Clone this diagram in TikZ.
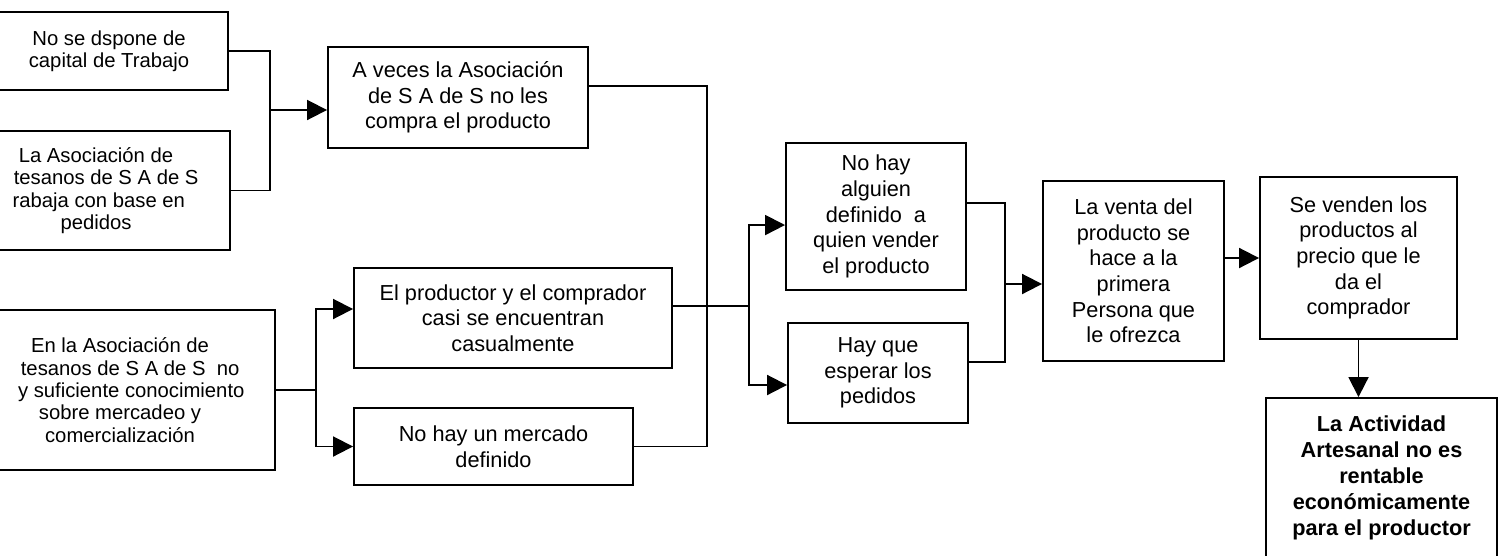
\documentclass[tikz,border=0pt]{standalone}
\usepackage{fontspec}
\setmainfont{Liberation Sans}
\usetikzlibrary{arrows.meta}
\tikzset{
  caja/.style={draw, line width=0.9pt, align=center, inner sep=2pt,
    font=\fontsize{10.5}{12.4}\selectfont},
  cajaizq/.style={caja, font=\fontsize{9.8}{10.8}\selectfont},
  flecha/.style={-{Triangle[length=3.4mm,width=3.4mm]}, line width=0.9pt},
  linea/.style={line width=0.9pt}
}
\begin{document}
\begin{tikzpicture}[x=0.017cm, y=-0.017cm]
\useasboundingbox (0,0) rectangle (1500,555);
\clip (0,0) rectangle (1500,555);
% causas (izquierda)
\node (A) at (109,51) [cajaizq, minimum width=4.046cm, minimum height=1.326cm] {No se dspone de\\capital de Trabajo};
\node (B) at (96,190.5) [cajaizq, minimum width=4.556cm, minimum height=2.023cm]
  {La Asociación de\\\phantom{Ar}tesanos de S A de S\\\phantom{t}rabaja con base en\\pedidos};
\node (D) at (120,390) [cajaizq, minimum width=5.27cm, minimum height=2.72cm]
  {En la Asociación de\\\phantom{Ar}tesanos de S A de S\ \ no\\\phantom{ha}y suficiente conocimiento\\sobre mercadeo y\\comercialización};
% segundo nivel
\node (C) at (458,97.5) [caja, minimum width=4.42cm, minimum height=1.717cm] {A veces la Asociación\\de S A de S no les\\compra el producto};
\node (P) at (513,318) [caja, minimum width=5.406cm, minimum height=1.7cm] {El productor y el comprador\\casi se encuentran\\casualmente};
\node (M) at (493.5,446.5) [caja, minimum width=4.743cm, minimum height=1.309cm] {No hay un mercado\\definido};
% tercer nivel
\node (Al) at (876,216.5) [caja, minimum width=3.06cm, minimum height=2.499cm] {No hay\\alguien\\definido\ \ a\\quien vender\\el producto};
\node (H) at (878,373) [caja, minimum width=3.06cm, minimum height=1.7cm] {Hay que\\esperar los\\pedidos};
\node (V) at (1133.5,271) [caja, minimum width=3.077cm, minimum height=3.06cm] {La venta del\\producto se\\hace a la\\primera\\Persona que\\le ofrezca};
\node (S) at (1358.5,258) [caja, minimum width=3.349cm, minimum height=2.754cm] {Se venden los\\productos al\\precio que le\\da el\\comprador};
\node (F) at (1381.5,478) [caja, font=\bfseries\fontsize{10.5}{12.6}\selectfont, minimum width=3.927cm, minimum height=2.72cm]
  {La Actividad\\Artesanal no es\\rentable\\económicamente\\para el productor};
% puntos de union
\coordinate (j1) at (270,110);
\coordinate (j2) at (707,306);
\coordinate (j3) at (749,306);
\coordinate (j4) at (1005,284);
\coordinate (j5) at (316,390);
% conectores
\draw[linea] (A.east) -| (j1) |- (B.east);
\draw[flecha] (j1) -- (j1 -| C.west);
\draw[linea] (D.east) -- (j5);
\draw[flecha] (j5) |- ([yshift=0.153cm]P.west);
\draw[flecha] (j5) |- (M.west);
\draw[linea] ([yshift=0.196cm]C.east) -| (j2);
\draw[linea] (M.east) -| (j2);
\draw[linea] ([yshift=0.204cm]P.east) -- (j3);
\draw[flecha] (j3) |- ([yshift=-0.145cm]Al.west);
\draw[flecha] (j3) |- ([yshift=-0.204cm]H.west);
\draw[linea] ([yshift=0.23cm]Al.east) -| (j4) |- ([yshift=0.187cm]H.east);
\draw[flecha] (j4) -- (j4 -| V.west);
\draw[flecha] (V.east |- S.west) -- (S.west);
\draw[flecha] (S.south) -- (S.south |- F.north);
\end{tikzpicture}
\end{document}
